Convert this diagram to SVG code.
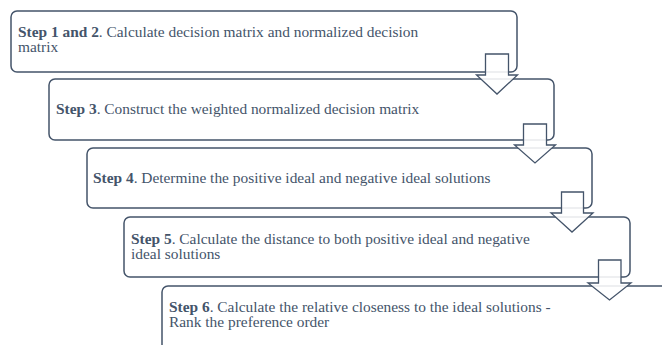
<svg xmlns="http://www.w3.org/2000/svg" width="662" height="345" viewBox="0 0 662 345">
<style>
.box{fill:#fff;stroke:#44546A;stroke-width:1.5}
.arr{fill:#fff;fill-opacity:0.88;stroke:#44546A;stroke-width:1.3;stroke-linejoin:miter}
.t{font-family:'Liberation Serif','Times New Roman',serif;font-size:15.4px;fill:#44546A}
.b{font-weight:bold}
</style>
<rect width="662" height="345" fill="#fff"/>
<g id="step1"><rect class="box" x="11" y="11" width="506" height="61" rx="6"/>
<text class="t" x="18" y="36.5"><tspan class="b">Step 1 and 2</tspan>. Calculate decision matrix and normalized decision</text>
<text class="t" x="18" y="51.5">matrix</text></g>
<g id="step2"><rect class="box" x="49" y="79" width="505" height="61" rx="6"/>
<text class="t" x="56" y="114"><tspan class="b">Step 3</tspan>. Construct the weighted normalized decision matrix</text></g>
<g id="step3"><rect class="box" x="87" y="148" width="505" height="60" rx="6"/>
<text class="t" x="93" y="183"><tspan class="b">Step 4</tspan>. Determine the positive ideal and negative ideal solutions</text></g>
<g id="step4"><rect class="box" x="124" y="217" width="506" height="60" rx="6"/>
<text class="t" x="131" y="243.5"><tspan class="b">Step 5</tspan>. Calculate the distance to both positive ideal and negative</text>
<text class="t" x="131" y="258.5">ideal solutions</text></g>
<g id="step5"><rect class="box" x="162" y="286" width="510" height="70" rx="6"/>
<text class="t" x="169" y="312"><tspan class="b">Step 6</tspan>. Calculate the relative closeness to the ideal solutions -</text>
<text class="t" x="169" y="327">Rank the preference order</text></g>
<g id="connectors">
<path class="arr" d="M485.5,54 H508.5 V75 H517.5 L497,94 L476.5,75 H485.5 Z"/>
<path class="arr" d="M523.5,124 H546.5 V145 H555.5 L535,163 L514.5,145 H523.5 Z"/>
<path class="arr" d="M561.5,192 H583.5 V213 H593 L572,232 L551,213 H561.5 Z"/>
<path class="arr" d="M598.5,260 H621 V283 H631 L609.5,300 L588,283 H598.5 Z"/>
</g>
</svg>
